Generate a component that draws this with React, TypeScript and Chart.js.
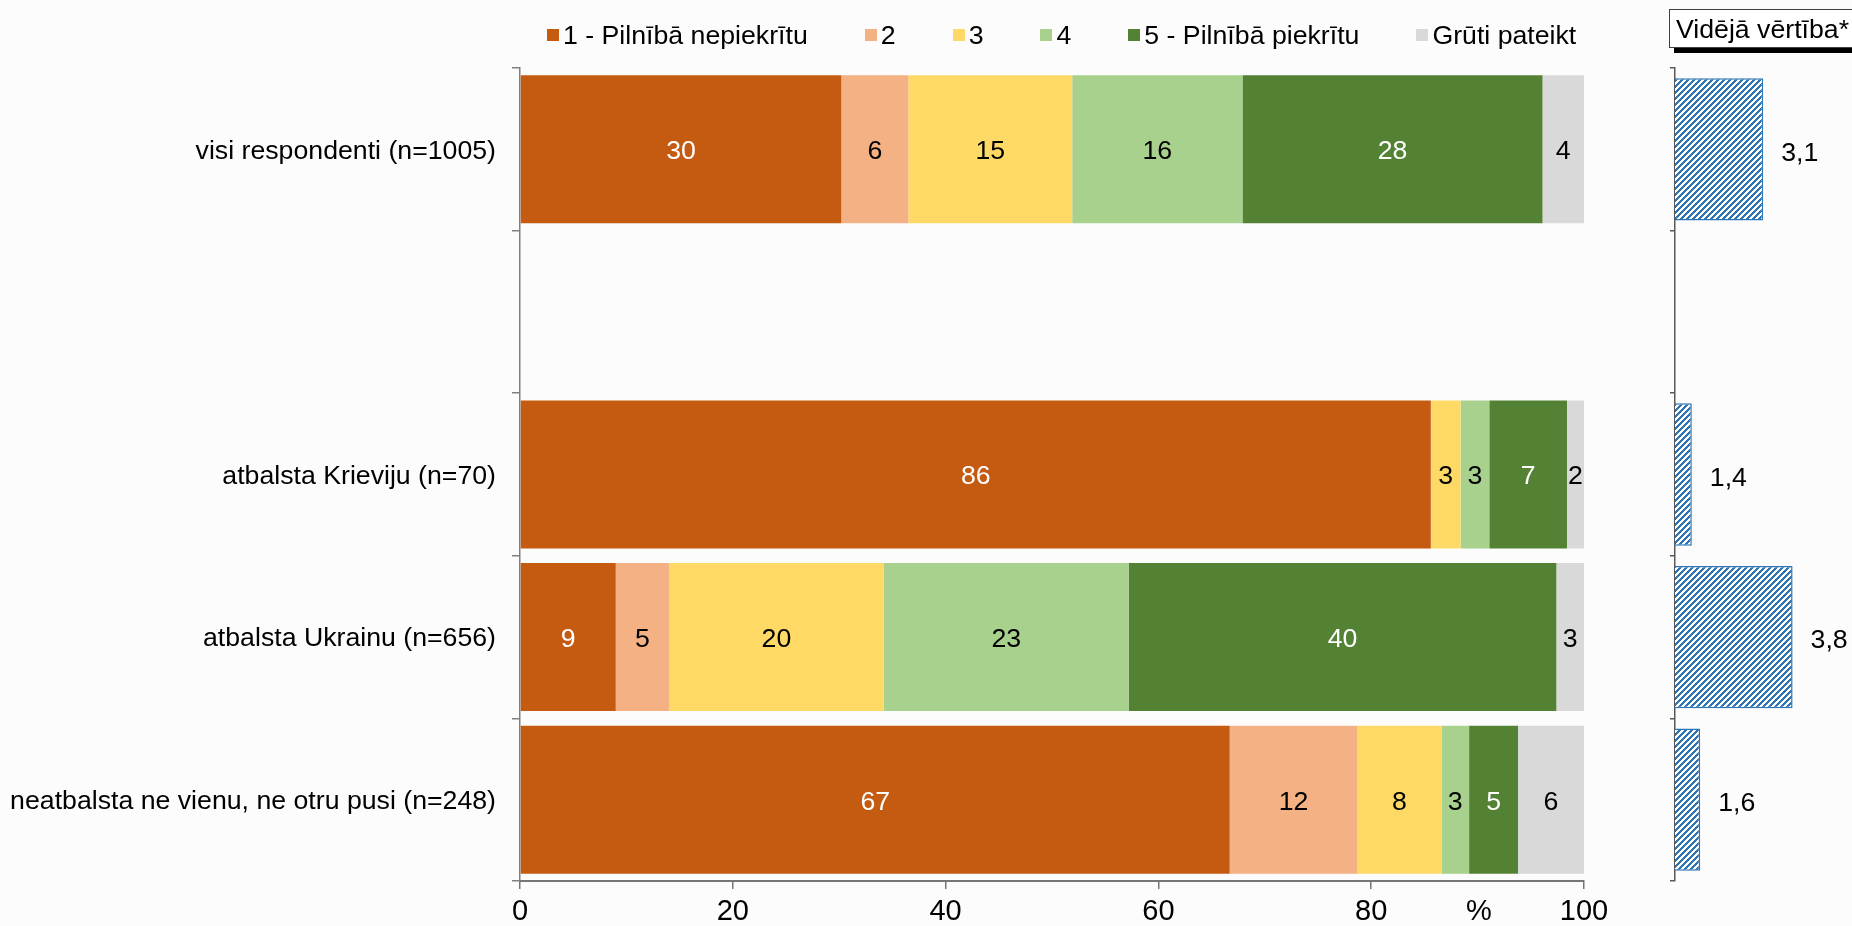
import React, { useEffect, useRef } from "react";
import { Chart, registerables } from "chart.js";

Chart.register(...registerables);

const FONT = '"Liberation Sans", Arial, Helvetica, sans-serif';
const FS = 26.7;
const FS_X = 29;

// ---- data ----
const categories = [
  "visi respondenti (n=1005)",
  "",
  "atbalsta Krieviju (n=70)",
  "atbalsta Ukrainu (n=656)",
  "neatbalsta ne vienu, ne otru pusi (n=248)",
];
const seriesNames = [
  "1 - Pilnībā nepiekrītu",
  "2",
  "3",
  "4",
  "5 - Pilnībā piekrītu",
  "Grūti pateikt",
];
const s1 = [30.2, null, 85.6, 9.0, 66.7];
const s2 = [6.3, null, 0, 5.0, 12.0];
const s3 = [15.4, null, 2.8, 20.2, 7.9];
const s4 = [16.0, null, 2.7, 23.0, 2.6];
const s5 = [28.2, null, 7.3, 40.2, 4.6];
const s6 = [3.9, null, 1.6, 2.6, 6.2];
const meanValues = [3.1, null, 1.4, 3.8, 1.6];
const xTickValues = [0, 20, 40, 60, 80, 100];
const meanTitle = "Vidējā vērtība*";
const unitLabel = "%";

const seriesColors = ["#C55A11", "#F4B183", "#FFD966", "#A9D18E", "#548235", "#D9D9D9"];
const labelColors = ["#ffffff", "#000000", "#000000", "#000000", "#ffffff", "#000000"];

function makeHatch(): CanvasPattern | string {
  const c = document.createElement("canvas");
  c.width = 6;
  c.height = 6;
  const ctx = c.getContext("2d");
  if (!ctx) return "#2E75B6";
  ctx.fillStyle = "#ffffff";
  ctx.fillRect(0, 0, 6, 6);
  ctx.fillStyle = "#2E75B6";
  for (let y = 0; y < 6; y++)
    for (let x = 0; x < 6; x++) if ((x + y) % 6 < 3) ctx.fillRect(x, y, 1, 1);
  return ctx.createPattern(c, "repeat") || "#2E75B6";
}

const segLabelPlugin = {
  id: "segLabels",
  afterDatasetsDraw(chart: any) {
    const ctx = chart.ctx;
    ctx.save();
    ctx.font = `${FS}px ${FONT}`;
    ctx.textAlign = "center";
    ctx.textBaseline = "middle";
    chart.data.datasets.forEach((ds: any, di: number) => {
      const meta = chart.getDatasetMeta(di);
      meta.data.forEach((el: any, i: number) => {
        const v = ds.data[i];
        if (v == null || v <= 0) return;
        const p = el.getCenterPoint();
        ctx.fillStyle = labelColors[di];
        ctx.fillText(String(Math.round(v)), p.x, p.y + 2.5);
      });
    });
    ctx.restore();
  },
};

const meanLabelPlugin = {
  id: "meanLabels",
  afterDatasetsDraw(chart: any) {
    const ctx = chart.ctx;
    ctx.save();
    ctx.font = `${FS}px ${FONT}`;
    ctx.textAlign = "left";
    ctx.textBaseline = "middle";
    ctx.fillStyle = "#000000";
    const ds = chart.data.datasets[0];
    chart.getDatasetMeta(0).data.forEach((el: any, i: number) => {
      const v = ds.data[i];
      if (v == null) return;
      ctx.fillText(v.toFixed(1).replace(".", ","), el.x + 18, el.y + 4);
    });
    ctx.restore();
  },
};

export default function App() {
  const mainRef = useRef<HTMLCanvasElement>(null);
  const meanRef = useRef<HTMLCanvasElement>(null);

  useEffect(() => {
    Chart.defaults.font.family = FONT;
    Chart.defaults.font.size = FS;
    Chart.defaults.color = "#000000";

    const seriesData = [s1, s2, s3, s4, s5, s6];
    const main = new Chart(mainRef.current!, {
      type: "bar",
      data: {
        labels: categories,
        datasets: seriesData.map((d, i) => ({
          label: seriesNames[i],
          data: d,
          backgroundColor: seriesColors[i],
          borderWidth: 0,
          barPercentage: 0.91,
          categoryPercentage: 1,
        })),
      },
      options: {
        indexAxis: "y",
        responsive: false,
        animation: false,
        layout: { padding: { top: 68, right: 36, left: 0, bottom: 0 } },
        plugins: { legend: { display: false }, tooltip: { enabled: false } },
        scales: {
          x: {
            stacked: true,
            min: 0,
            max: 100,
            afterBuildTicks: (scale: any) => {
              scale.ticks = xTickValues.map((v) => ({ value: v }));
            },
            afterFit: (scale: any) => {
              scale.height = 45;
            },
            ticks: { font: { size: FS_X }, color: "#000", padding: 6, maxRotation: 0 },
            grid: { drawOnChartArea: false, drawTicks: true, tickLength: 8, color: "#767676", lineWidth: 1.5 },
            border: { color: "#767676", width: 2 },
          },
          y: {
            stacked: true,
            afterFit: (scale: any) => {
              scale.width = 520;
            },
            ticks: { font: { size: FS }, color: "#000", padding: 16, autoSkip: false, labelOffset: 2 },
            grid: { drawOnChartArea: false, drawTicks: true, tickLength: 8, color: "#808080", lineWidth: 1.5, offset: true },
            border: { color: "#808080", width: 1.5 },
          },
        },
      },
      plugins: [segLabelPlugin],
    } as any);

    const hatch = makeHatch();
    const mean = new Chart(meanRef.current!, {
      type: "bar",
      data: {
        labels: categories,
        datasets: [
          {
            label: meanTitle,
            data: meanValues,
            backgroundColor: hatch as any,
            borderColor: "#2E75B6",
            borderWidth: 1.5,
            barPercentage: 0.875,
            categoryPercentage: 1,
          },
        ],
      },
      options: {
        indexAxis: "y",
        responsive: false,
        animation: false,
        layout: { padding: { top: 68, right: 9, left: 0, bottom: 45 } },
        plugins: { legend: { display: false }, tooltip: { enabled: false } },
        scales: {
          x: { display: false, min: 1, max: 5 },
          y: {
            afterFit: (scale: any) => {
              scale.width = 35;
            },
            ticks: { display: false },
            grid: { drawOnChartArea: false, drawTicks: true, tickLength: 5, color: "#595959", lineWidth: 1.5, offset: true },
            border: { color: "#595959", width: 1.5 },
          },
        },
      },
      plugins: [meanLabelPlugin],
    } as any);

    return () => {
      main.destroy();
      mean.destroy();
    };
  }, []);

  const legendTextStyle: React.CSSProperties = { fontSize: FS, lineHeight: "26px", color: "#000", whiteSpace: "nowrap" };

  return (
    <div
      style={{
        position: "fixed",
        left: 0,
        top: 0,
        width: 1852,
        height: 926,
        overflow: "hidden",
        background: "#fcfcfc",
        fontFamily: FONT,
      }}
    >
      <canvas ref={mainRef} width={1620} height={926} style={{ position: "absolute", left: 0, top: 0 }} />
      <canvas ref={meanRef} width={212} height={926} style={{ position: "absolute", left: 1640, top: 0 }} />

      {/* legend */}
      <div style={{ position: "absolute", left: 547, top: 22, display: "flex", alignItems: "center", gap: 57 }}>
        {seriesNames.map((n, i) => (
          <div key={i} style={{ display: "flex", alignItems: "center" }}>
            <span style={{ width: 12, height: 12, background: seriesColors[i], marginRight: 4, display: "inline-block" }} />
            <span style={legendTextStyle}>{n}</span>
          </div>
        ))}
      </div>

      {/* mean title box */}
      <div
        style={{
          position: "absolute",
          left: 1669,
          top: 9,
          width: 220,
          height: 37,
          border: "1px solid #404040",
          background: "#ffffff",
          boxShadow: "5px 5px 0 #000",
          boxSizing: "content-box",
        }}
      >
        <span style={{ position: "absolute", left: 6, top: 6, fontSize: FS, lineHeight: "26px", whiteSpace: "nowrap" }}>
          {meanTitle}
        </span>
      </div>

      {/* unit label */}
      <div style={{ position: "absolute", left: 1466, top: 896, fontSize: FS_X, lineHeight: "29px" }}>{unitLabel}</div>
    </div>
  );
}
